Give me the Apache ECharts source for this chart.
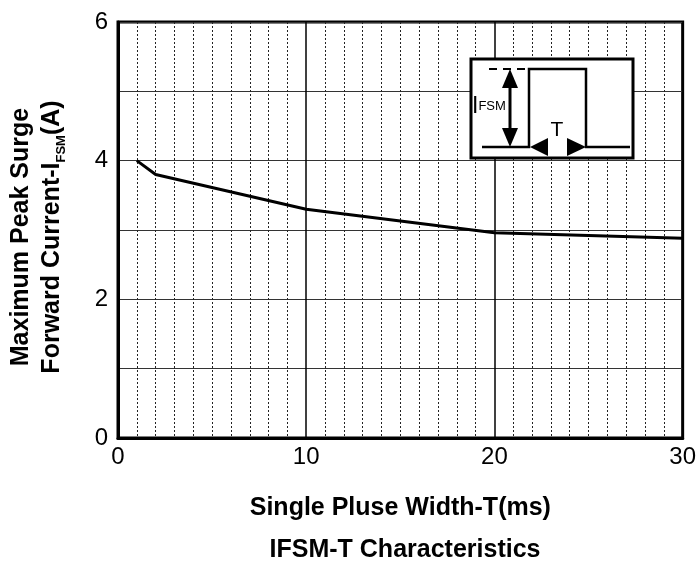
<!DOCTYPE html>
<html><head><meta charset="utf-8">
<script src="https://cdn.jsdelivr.net/npm/echarts@6/dist/echarts.min.js"></script>
<style>html,body{margin:0;padding:0;background:#fff}#c{width:699px;height:563px}</style>
</head><body><div id="c"></div>
<script>
const pulseWidth = [1, 2, 10, 20, 30];
const surgeCurrent = [4.0, 3.8, 3.3, 2.96, 2.88];
const xTicks = [0, 10, 20, 30];
const yTicks = [0, 2, 4, 6];
const xName = 'Single Pluse Width-T(ms)';
const titleText = 'IFSM-T Characteristics';
const yName1 = 'Maximum Peak Surge';
const yName2 = 'Forward Current-I';

const FONT = '"Liberation Sans", Arial, sans-serif';
const chart = echarts.init(document.getElementById('c'));

function tri(points) {
  return { type: 'polygon', shape: { points: points }, style: { fill: '#000' }, z: 20 };
}

chart.setOption({
  animation: false,
  backgroundColor: '#fff',
  title: {
    text: titleText, left: 400, top: 533, textAlign: 'center',
    textStyle: { fontFamily: FONT, fontWeight: 'bold', fontSize: 25, color: '#000' }
  },
  grid: { left: 118, right: 16, top: 22, bottom: 125, show: true, borderColor: '#000', borderWidth: 3, backgroundColor: 'transparent' },
  xAxis: {
    type: 'value', min: 0, max: 30, interval: 10,
    name: xName, nameLocation: 'middle', nameGap: 58,
    nameTextStyle: { fontFamily: FONT, fontWeight: 'bold', fontSize: 25, color: '#000' },
    axisLine: { show: true, lineStyle: { color: '#000', width: 3 } },
    axisTick: { show: false },
    axisLabel: { fontFamily: FONT, fontSize: 24, color: '#000', margin: 7,
      formatter: v => xTicks.includes(v) ? String(v) : '' },
    splitLine: { show: true, lineStyle: { color: '#000', width: 1.5 } },
    minorTick: { show: false, splitNumber: 10 },
    minorSplitLine: { show: true, lineStyle: { color: '#222', width: 1, type: [2, 2] } }
  },
  yAxis: {
    type: 'value', min: 0, max: 6, interval: 1,
    axisLine: { show: true, lineStyle: { color: '#000', width: 3 } },
    axisTick: { show: false },
    axisLabel: { fontFamily: FONT, fontSize: 24, color: '#000', margin: 10,
      formatter: v => yTicks.includes(v) ? String(v) : '' },
    splitLine: { show: true, lineStyle: { color: '#333', width: 1 } }
  },
  graphic: [
    {
      type: 'text', x: 37, y: 237, rotation: Math.PI / 2, z: 30,
      style: {
        text: '{m|' + yName1 + '}\n{m|' + yName2 + '}{s|FSM}{m|(A)}',
        align: 'center', verticalAlign: 'middle',
        rich: {
          m: { fontFamily: FONT, fontWeight: 'bold', fontSize: 25, lineHeight: 31, color: '#000', verticalAlign: 'middle' },
          s: { fontFamily: FONT, fontWeight: 'bold', fontSize: 13, lineHeight: 31, color: '#000', verticalAlign: 'bottom', padding: [12, 0, 0, 0] }
        }
      }
    },
    { type: 'rect', shape: { x: 471, y: 59, width: 162, height: 99 }, style: { fill: '#fff', stroke: '#000', lineWidth: 3 }, z: 10 },
    { type: 'line', shape: { x1: 489, y1: 69, x2: 527, y2: 69 }, style: { stroke: '#000', lineWidth: 2, lineDash: [8, 6] }, z: 20 },
    { type: 'polyline', shape: { points: [[482, 147], [529, 147], [529, 69], [586, 69], [586, 147], [630, 147]] }, style: { fill: null, stroke: '#000', lineWidth: 2.5 }, z: 20 },
    { type: 'line', shape: { x1: 510, y1: 80, x2: 510, y2: 136 }, style: { stroke: '#000', lineWidth: 3 }, z: 20 },
    tri([[510, 69], [502, 88], [518, 88]]),
    tri([[510, 147], [502, 128], [518, 128]]),
    tri([[530, 147], [548, 138], [548, 156]]),
    tri([[586, 147], [567, 138], [567, 156]]),
    { type: 'text', x: 472, y: 118, z: 20,
      style: { text: '{b|I}{s|FSM}', verticalAlign: 'bottom',
        rich: { b: { fontFamily: FONT, fontSize: 23, color: '#000' }, s: { fontFamily: FONT, fontSize: 13, color: '#000' } } } },
    { type: 'text', x: 557, y: 130, z: 20,
      style: { text: 'T', align: 'center', verticalAlign: 'middle', fontFamily: FONT, fontSize: 21, fill: '#000' } }
  ],
  series: [{
    type: 'line', data: pulseWidth.map((x, i) => [x, surgeCurrent[i]]),
    showSymbol: false, symbol: 'none',
    lineStyle: { color: '#000', width: 3 }, z: 5
  }]
});
</script></body></html>
